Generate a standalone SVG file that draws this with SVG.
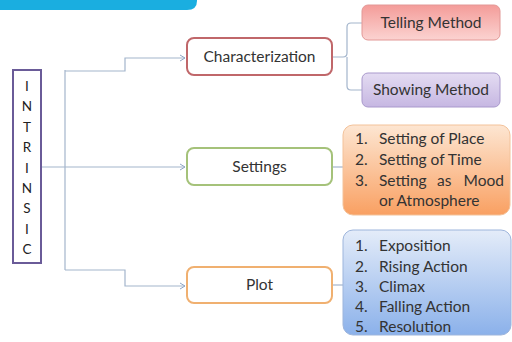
<svg xmlns="http://www.w3.org/2000/svg" width="512" height="342" viewBox="0 0 512 342">
<defs>
<linearGradient id="gPink" x1="0" y1="0" x2="0" y2="1"><stop offset="0" stop-color="#f49c99"/><stop offset="1" stop-color="#fbd3d1"/></linearGradient>
<linearGradient id="gPurple" x1="0" y1="0" x2="0" y2="1"><stop offset="0" stop-color="#e4dcf2"/><stop offset="1" stop-color="#c6b7e2"/></linearGradient>
<linearGradient id="gOrange" x1="0" y1="0" x2="0" y2="1"><stop offset="0" stop-color="#fde6d2"/><stop offset="1" stop-color="#f9a062"/></linearGradient>
<linearGradient id="gBlue" x1="0" y1="0" x2="0" y2="1"><stop offset="0" stop-color="#e4ecf9"/><stop offset="1" stop-color="#8bb1ea"/></linearGradient>
<marker id="arr" markerWidth="8" markerHeight="8" refX="6" refY="4" orient="auto" markerUnits="userSpaceOnUse">
<path d="M1,1 L6,4 L1,7" fill="none" stroke="#8fa6c4" stroke-width="1"/>
</marker>
<style>
text{font-family:Lato,"Liberation Sans",sans-serif;fill:#333;}
.lbl{font-size:15.5px;text-anchor:middle;}
.lst{font-size:15.5px;}
.ltr{font-size:13.5px;text-anchor:middle;fill:#222;}
.conn{fill:none;stroke:#a3b5cc;stroke-width:1.2;}
.mid{fill:#fff;stroke-width:2;}
</style>
</defs>
<rect width="512" height="342" fill="#fff"/>
<path d="M0,0 H197 V1 Q197,10 187,10 H0 Z" fill="#1aaee0"/>
<g id="connectors">
<path class="conn" d="M65,70 V270"/>
<path class="conn" d="M65,71 H125 V58 H185" marker-end="url(#arr)"/>
<path class="conn" d="M41,167 H185" marker-end="url(#arr)"/>
<path class="conn" d="M65,270 H125 V286 H185" marker-end="url(#arr)"/>
<path class="conn" d="M332,57 H343 Q347,57 347,53 V27 Q347,23 351,23 H362"/>
<path class="conn" d="M347,57 V86 Q347,90 351,90 H362"/>
<path class="conn" d="M332,167 H343"/>
<path class="conn" d="M332,285 H343"/>
</g>
<g id="intrinsic">
<rect x="13" y="70" width="28" height="193" fill="#fff" stroke="#6a5b98" stroke-width="2"/>
<text class="ltr" x="27" y="91">I</text>
<text class="ltr" x="27" y="111">N</text>
<text class="ltr" x="27" y="132">T</text>
<text class="ltr" x="27" y="152">R</text>
<text class="ltr" x="27" y="173">I</text>
<text class="ltr" x="27" y="193">N</text>
<text class="ltr" x="27" y="213">S</text>
<text class="ltr" x="27" y="234">I</text>
<text class="ltr" x="27" y="254">C</text>
</g>
<g id="characterization">
<rect class="mid" x="187" y="38" width="145" height="37" rx="7" stroke="#c0676a"/>
<text class="lbl" x="259.5" y="62">Characterization</text>
</g>
<g id="telling">
<rect x="362" y="5" width="138" height="35" rx="6" fill="url(#gPink)" stroke="#e29896" stroke-width="1"/>
<text class="lbl" x="431" y="28">Telling Method</text>
</g>
<g id="showing">
<rect x="362" y="73" width="138" height="34" rx="6" fill="url(#gPurple)" stroke="#a999cc" stroke-width="1"/>
<text class="lbl" x="431" y="95">Showing Method</text>
</g>
<g id="settings">
<rect class="mid" x="187" y="148" width="145" height="37" rx="7" stroke="#a5c27a"/>
<text class="lbl" x="259.5" y="172">Settings</text>
</g>
<g id="settings-list">
<rect x="343" y="125" width="167" height="90" rx="10" fill="url(#gOrange)" stroke="#f3c29a" stroke-width="1"/>
<text class="lst" x="355" y="144">1.</text><text class="lst" x="379" y="144">Setting of Place</text>
<text class="lst" x="355" y="165">2.</text><text class="lst" x="379" y="165">Setting of Time</text>
<text class="lst" x="355" y="186">3.</text><text class="lst" x="379" y="186">Setting</text><text class="lst" x="437" y="186">as</text><text class="lst" x="504" y="186" text-anchor="end">Mood</text>
<text class="lst" x="379" y="206">or Atmosphere</text>
</g>
<g id="plot">
<rect class="mid" x="187" y="267" width="145" height="36" rx="7" stroke="#f0b070"/>
<text class="lbl" x="259.5" y="290">Plot</text>
</g>
<g id="plot-list">
<rect x="343" y="230" width="168" height="105" rx="10" fill="url(#gBlue)" stroke="#9db5dc" stroke-width="1"/>
<text class="lst" x="355" y="251">1.</text><text class="lst" x="379" y="251">Exposition</text>
<text class="lst" x="355" y="272">2.</text><text class="lst" x="379" y="272">Rising Action</text>
<text class="lst" x="355" y="292">3.</text><text class="lst" x="379" y="292">Climax</text>
<text class="lst" x="355" y="312">4.</text><text class="lst" x="379" y="312">Falling Action</text>
<text class="lst" x="355" y="332">5.</text><text class="lst" x="379" y="332">Resolution</text>
</g>
</svg>
